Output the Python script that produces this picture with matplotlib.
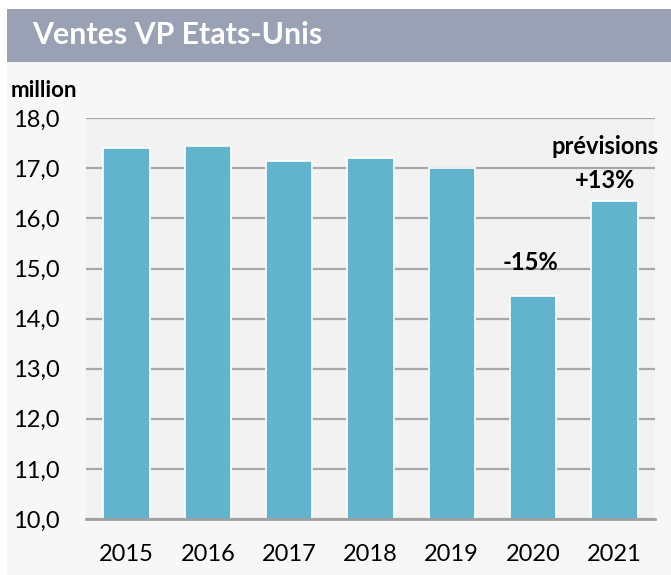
import matplotlib
matplotlib.use("Agg")
import matplotlib.pyplot as plt
from matplotlib.patches import Rectangle

years = ["2015", "2016", "2017", "2018", "2019", "2020", "2021"]
sales = [17.4, 17.45, 17.15, 17.2, 17.0, 14.45, 16.35]
yticks = [10, 11, 12, 13, 14, 15, 16, 17, 18]
ytick_labels = ["10,0", "11,0", "12,0", "13,0", "14,0", "15,0", "16,0", "17,0", "18,0"]
title = "Ventes VP Etats-Unis"
unit = "million"
ann_2020 = "-15%"
ann_2021 = "+13%"
ann_prev = "prévisions"

plt.rcParams['font.family'] = ['Lato', 'DejaVu Sans']

W, H = 671, 575
fig = plt.figure(figsize=(W / 100, H / 100), dpi=100)
fig.patch.set_facecolor("white")

def fx(px):
    return px / W

def fy(py):
    return 1 - py / H

# panel background and title band
fig.add_artist(Rectangle((fx(7), 0), 1 - fx(7), fy(62), transform=fig.transFigure,
                         facecolor="#F7F7F7", edgecolor="none", zorder=0))
fig.add_artist(Rectangle((fx(7), fy(62)), 1 - fx(7), fy(9) - fy(62), transform=fig.transFigure,
                         facecolor="#9AA1B4", edgecolor="none", zorder=0))
fig.text(fx(32), fy(35.5), title, color="white", fontsize=21.8, fontweight="bold",
         ha="left", va="center")
fig.text(fx(11), fy(97), unit, color="black", fontsize=16, fontweight="bold",
         ha="left", va="baseline")

left, right, top, bottom = 86, 655, 118.3, 519
ax = fig.add_axes([fx(left), fy(bottom), fx(right) - fx(left), fy(top) - fy(bottom)])
ax.set_facecolor("#F2F2F2")

x = list(range(len(years)))
ax.bar(x, sales, width=0.57, color="#62B4CD", edgecolor="white", linewidth=1.2, zorder=3)

ax.set_xlim(-0.5, len(years) - 0.5)
ax.set_ylim(10, 18)
ax.set_yticks(yticks)
ax.set_yticklabels(ytick_labels)
ax.set_xticks(x)
ax.set_xticklabels(years)
ax.tick_params(axis="both", length=0, labelsize=17, colors="black")
ax.tick_params(axis="y", pad=19)
ax.tick_params(axis="x", pad=18)
ax.yaxis.grid(True, color="#A8A8A8", linewidth=1.6, zorder=1)
ax.set_axisbelow(True)
for s in ["top", "right", "left"]:
    ax.spines[s].set_visible(False)
ax.spines["bottom"].set_color("#A0A0A0")
ax.spines["bottom"].set_linewidth(2)
ax.spines["bottom"].set_zorder(4)

ax.text(5 - 0.03, 14.97, ann_2020, fontsize=17, fontweight="bold", ha="center", va="baseline", zorder=5)
ax.text(6 - 0.11, 16.6, ann_2021, fontsize=17, fontweight="bold", ha="center", va="baseline", zorder=5)
ax.text(6 - 0.11, 17.28, ann_prev, fontsize=17, fontweight="bold", ha="center", va="baseline", zorder=5)

fig.savefig("out.png", dpi=100, facecolor=fig.get_facecolor())
